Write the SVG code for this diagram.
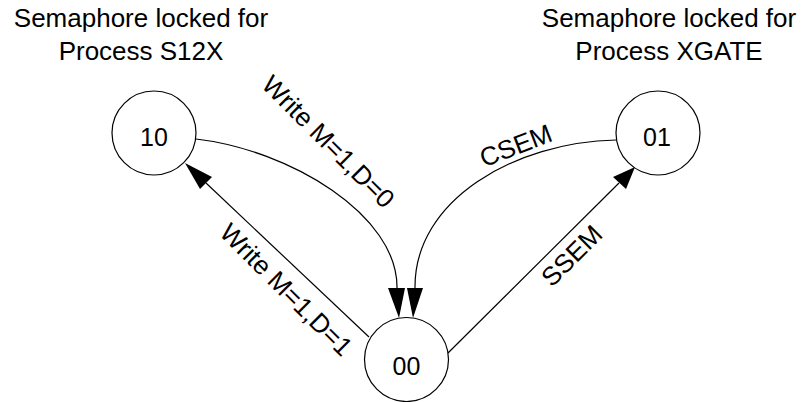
<svg xmlns="http://www.w3.org/2000/svg" width="806" height="402" viewBox="0 0 806 402">
<style>
  .bg { fill: #ffffff; }
  .node { fill: #ffffff; stroke: #000000; stroke-width: 1.2; }
  .edge { fill: none; stroke: #000000; stroke-width: 1.2; }
  .head { fill: #000000; stroke: none; }
  text { font-family: "Liberation Sans", Arial, Helvetica, sans-serif; fill: #000000; }
  .lbl { font-size: 26px; text-anchor: middle; }
  .nlbl { font-size: 25px; text-anchor: middle; }
</style>
<rect class="bg" x="0" y="0" width="806" height="402"/>

<g id="title-s12x">
  <text class="lbl" x="141" y="27">Semaphore locked for</text>
  <text class="lbl" x="141" y="60">Process S12X</text>
</g>
<g id="title-xgate">
  <text class="lbl" x="669" y="27">Semaphore locked for</text>
  <text class="lbl" x="669" y="60">Process XGATE</text>
</g>

<g id="connectors">
  <g id="edge-10-00">
    <path class="edge" d="M196,139 C290,150 398,215 397,288"/>
    <polygon class="head" points="388,288 405,288 399,318"/>
    <text class="lbl" transform="translate(322,148) rotate(45)">Write M=1,D=0</text>
  </g>
  <g id="edge-01-00">
    <path class="edge" d="M616,140 C515,142 414,200 415,288"/>
    <polygon class="head" points="407,288 423,288 413,318"/>
    <text class="lbl" transform="translate(519,154) rotate(-21)">CSEM</text>
  </g>
  <g id="edge-00-10">
    <path class="edge" d="M369,337 L206,183"/>
    <polygon class="head" points="185,163 212,177 200,189"/>
    <text class="lbl" transform="translate(280,296) rotate(45)">Write M=1,D=1</text>
  </g>
  <g id="edge-00-01">
    <path class="edge" d="M448,353 L619,183"/>
    <polygon class="head" points="635,167 613,177 626,189"/>
    <text class="lbl" transform="translate(578,262) rotate(-45)">SSEM</text>
  </g>
</g>

<g id="node-10">
  <circle class="node" cx="154" cy="133" r="42"/>
  <text class="nlbl" x="154" y="146">10</text>
</g>
<g id="node-01">
  <circle class="node" cx="658" cy="133" r="42"/>
  <text class="nlbl" x="657" y="146">01</text>
</g>
<g id="node-00">
  <circle class="node" cx="406.5" cy="359.5" r="42"/>
  <text class="nlbl" x="406.5" y="375">00</text>
</g>
</svg>
